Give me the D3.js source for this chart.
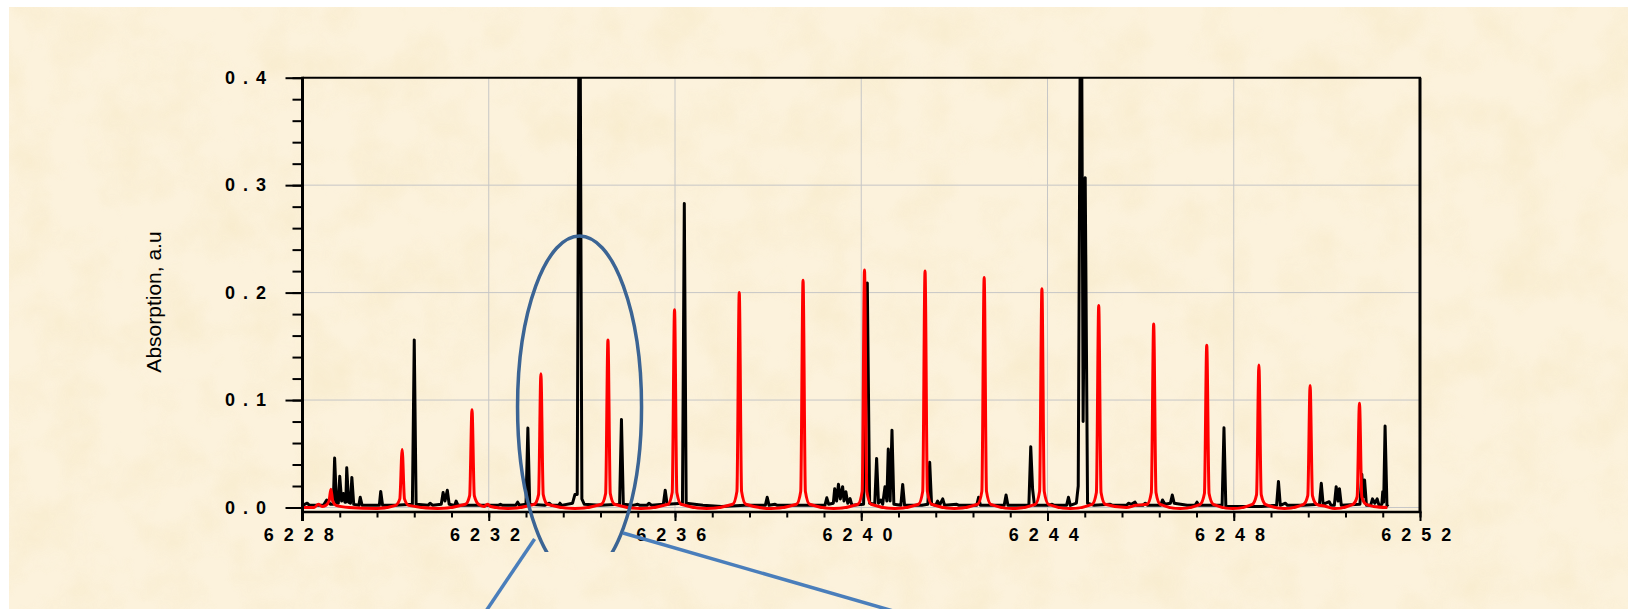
<!DOCTYPE html>
<html>
<head>
<meta charset="utf-8">
<script src="https://cdn.jsdelivr.net/npm/d3@7"></script>
<style>
  html, body { margin: 0; padding: 0; background: #fff; }
  svg { display: block; }
  .tick text { font-family: "Liberation Sans", Arial, sans-serif; font-weight: bold; font-size: 18px; fill: #000; }
</style>
</head>
<body>
<div id="chart"></div>
<script>
// axis ticks
const xTicks = [6228, 6232, 6236, 6240, 6244, 6248, 6252];
const yTicks = [0.0, 0.1, 0.2, 0.3, 0.4];

// measured spectrum (black), [wavenumber, absorption]
const blackTrace = [
  [6228.00, 0.002], [6228.10, 0.004], [6228.15, 0.002],
  [6228.45, 0.002], [6228.52, 0.007], [6228.60, 0.003],
  [6228.66, 0.003], [6228.69, 0.046], [6228.73, 0.004],
  [6228.77, 0.004], [6228.80, 0.029], [6228.84, 0.006],
  [6228.88, 0.013], [6228.91, 0.005],
  [6228.93, 0.005], [6228.95, 0.037], [6228.99, 0.005],
  [6229.03, 0.004], [6229.06, 0.028], [6229.10, 0.003],
  [6229.21, 0.002], [6229.24, 0.0095], [6229.28, 0.002],
  [6229.50, 0.002],
  [6229.65, 0.002], [6229.68, 0.015], [6229.72, 0.002],
  [6230.00, 0.002],
  [6230.36, 0.003], [6230.40, 0.156], [6230.44, 0.003],
  [6230.70, 0.002], [6230.74, 0.004], [6230.80, 0.002],
  [6230.98, 0.003], [6231.02, 0.014], [6231.06, 0.006], [6231.11, 0.016], [6231.15, 0.003],
  [6231.27, 0.002], [6231.30, 0.006], [6231.34, 0.002],
  [6231.70, 0.002], [6232.20, 0.002], [6232.25, 0.003], [6232.30, 0.002],
  [6232.58, 0.002], [6232.62, 0.005], [6232.66, 0.002],
  [6232.80, 0.003], [6232.84, 0.074], [6232.88, 0.003],
  [6233.20, 0.002], [6233.30, 0.004], [6233.35, 0.002],
  [6233.50, 0.002], [6233.53, 0.004], [6233.56, 0.002],
  [6233.80, 0.004], [6233.85, 0.012], [6233.90, 0.012], [6233.95, 0.600], [6234.00, 0.008], [6234.05, 0.003],
  [6234.40, 0.002],
  [6234.81, 0.003], [6234.85, 0.082], [6234.89, 0.003],
  [6235.10, 0.002], [6235.20, 0.003], [6235.25, 0.002],
  [6235.40, 0.002], [6235.44, 0.004], [6235.50, 0.002],
  [6235.75, 0.003], [6235.79, 0.016], [6235.83, 0.003],
  [6236.16, 0.004], [6236.20, 0.283], [6236.24, 0.004],
  [6236.60, 0.002], [6237.00, 0.001], [6237.50, 0.002],
  [6237.94, 0.002], [6237.98, 0.0095], [6238.02, 0.002],
  [6238.15, 0.003], [6238.20, 0.002], [6238.70, 0.002],
  [6239.22, 0.002], [6239.26, 0.009], [6239.30, 0.003],
  [6239.40, 0.004], [6239.43, 0.0175], [6239.47, 0.006], [6239.51, 0.0216], [6239.55, 0.008],
  [6239.60, 0.0194], [6239.63, 0.006], [6239.67, 0.0147], [6239.71, 0.004], [6239.76, 0.0082], [6239.80, 0.002],
  [6240.05, 0.003], [6240.13, 0.209], [6240.18, 0.004],
  [6240.29, 0.003], [6240.33, 0.0457], [6240.37, 0.004], [6240.42, 0.007], [6240.46, 0.003],
  [6240.51, 0.0194], [6240.55, 0.006], [6240.58, 0.0544], [6240.62, 0.006], [6240.66, 0.072], [6240.70, 0.003],
  [6240.85, 0.002], [6240.89, 0.0215], [6240.93, 0.002],
  [6241.30, 0.002], [6241.43, 0.003], [6241.47, 0.042], [6241.51, 0.003],
  [6241.60, 0.002], [6241.64, 0.006], [6241.68, 0.002], [6241.75, 0.008], [6241.79, 0.002],
  [6242.05, 0.003], [6242.10, 0.002],
  [6242.48, 0.002], [6242.52, 0.0095], [6242.56, 0.002],
  [6243.07, 0.002], [6243.11, 0.0116], [6243.15, 0.002],
  [6243.60, 0.002], [6243.64, 0.0566], [6243.68, 0.017], [6243.72, 0.002],
  [6244.00, 0.002], [6244.10, 0.003], [6244.15, 0.002],
  [6244.41, 0.002], [6244.45, 0.0095], [6244.49, 0.002],
  [6244.62, 0.004], [6244.66, 0.020], [6244.72, 0.600], [6244.765, 0.080], [6244.81, 0.307], [6244.86, 0.004],
  [6245.00, 0.002], [6245.35, 0.003], [6245.40, 0.002],
  [6245.70, 0.002], [6245.74, 0.004], [6245.80, 0.003], [6245.88, 0.005], [6245.92, 0.002],
  [6246.05, 0.002], [6246.10, 0.004], [6246.15, 0.002],
  [6246.43, 0.002], [6246.47, 0.007], [6246.52, 0.003], [6246.64, 0.004], [6246.68, 0.0116], [6246.72, 0.004],
  [6247.00, 0.002], [6247.17, 0.002], [6247.21, 0.005], [6247.25, 0.002],
  [6247.75, 0.002], [6247.79, 0.0743], [6247.83, 0.001],
  [6248.20, 0.001], [6248.60, 0.001],
  [6248.92, 0.002], [6248.96, 0.0243], [6249.00, 0.002], [6249.11, 0.004], [6249.15, 0.002],
  [6249.50, 0.002],
  [6249.84, 0.003], [6249.88, 0.0225], [6249.92, 0.003], [6250.05, 0.0054], [6250.09, 0.002],
  [6250.16, 0.002], [6250.20, 0.0194], [6250.24, 0.006], [6250.27, 0.0175], [6250.31, 0.002],
  [6250.71, 0.003], [6250.75, 0.031], [6250.78, 0.010], [6250.81, 0.0256], [6250.85, 0.002],
  [6250.94, 0.002], [6250.98, 0.008], [6251.03, 0.004], [6251.08, 0.008], [6251.12, 0.002],
  [6251.18, 0.003], [6251.20, 0.0147], [6251.22, 0.005], [6251.25, 0.0758], [6251.29, 0.002], [6251.32, 0.001]
];

// simulated spectrum (red), [wavenumber, absorption]
const redTrace = [
  [6228.00, 0.000], [6228.25, 0.000], [6228.34, 0.003], [6228.42, 0.001],
  [6228.50, 0.002], [6228.57, 0.006], [6228.61, 0.017], [6228.65, 0.006], [6228.72, 0.002],
  [6229.00, 0.000], [6229.60, -0.001],
  [6230.00, 0.002], [6230.09, 0.008], [6230.14, 0.054], [6230.19, 0.008], [6230.28, 0.002],
  [6230.90, -0.001],
  [6231.50, 0.003], [6231.59, 0.011], [6231.64, 0.091], [6231.69, 0.011], [6231.78, 0.003],
  [6231.90, 0.001], [6231.97, 0.003], [6232.04, 0.001],
  [6232.40, -0.001],
  [6232.98, 0.003], [6233.07, 0.012], [6233.12, 0.1245], [6233.17, 0.012], [6233.26, 0.003],
  [6233.85, -0.001],
  [6234.42, 0.003], [6234.51, 0.013], [6234.56, 0.156], [6234.61, 0.013], [6234.70, 0.003],
  [6235.27, -0.001],
  [6235.85, 0.003], [6235.94, 0.014], [6235.99, 0.184], [6236.04, 0.014], [6236.13, 0.003],
  [6236.68, -0.001],
  [6237.24, 0.003], [6237.33, 0.015], [6237.38, 0.200], [6237.43, 0.015], [6237.52, 0.003],
  [6238.06, -0.001],
  [6238.61, 0.003], [6238.70, 0.015], [6238.75, 0.2116], [6238.80, 0.015], [6238.89, 0.003],
  [6239.41, -0.001],
  [6239.93, 0.003], [6240.02, 0.015], [6240.07, 0.221], [6240.12, 0.015], [6240.21, 0.003],
  [6240.72, -0.001],
  [6241.23, 0.003], [6241.32, 0.015], [6241.37, 0.220], [6241.42, 0.015], [6241.51, 0.003],
  [6242.00, -0.001],
  [6242.50, 0.003], [6242.59, 0.015], [6242.64, 0.214], [6242.69, 0.015], [6242.78, 0.003],
  [6243.26, -0.001],
  [6243.74, 0.003], [6243.83, 0.015], [6243.88, 0.2036], [6243.93, 0.015], [6244.02, 0.003],
  [6244.49, -0.001],
  [6244.96, 0.003], [6245.05, 0.014], [6245.10, 0.188], [6245.15, 0.014], [6245.24, 0.003],
  [6245.69, 0.000], [6245.90, 0.002],
  [6246.14, 0.003], [6246.23, 0.014], [6246.28, 0.1707], [6246.33, 0.014], [6246.42, 0.003],
  [6246.85, -0.001],
  [6247.28, 0.003], [6247.37, 0.013], [6247.42, 0.151], [6247.47, 0.013], [6247.56, 0.003],
  [6247.98, -0.001],
  [6248.40, 0.003], [6248.49, 0.012], [6248.54, 0.1326], [6248.59, 0.012], [6248.68, 0.003],
  [6249.09, -0.001],
  [6249.50, 0.003], [6249.59, 0.011], [6249.64, 0.1136], [6249.69, 0.011], [6249.78, 0.003],
  [6249.98, 0.001], [6250.17, -0.001],
  [6250.56, 0.003], [6250.65, 0.010], [6250.70, 0.097], [6250.75, 0.010], [6250.84, 0.003],
  [6251.00, 0.001], [6251.30, 0.000]
];

const width = 1628, height = 609;
const plotLeft = 302.5, plotRight = 1420, plotTop = 77.7, plotBottom = 512;

const svg = d3.select("#chart")
    .append("svg")
    .attr("width", width)
    .attr("height", height);

const defs = svg.append("defs");

// parchment texture
const paper = defs.append("filter")
    .attr("id", "paper")
    .attr("x", 0).attr("y", 0).attr("width", "100%").attr("height", "100%");
paper.append("feTurbulence")
    .attr("type", "fractalNoise")
    .attr("baseFrequency", "0.02")
    .attr("numOctaves", 4)
    .attr("seed", 7);
paper.append("feColorMatrix")
    .attr("type", "matrix")
    .attr("values", "0 0 0 0 0.93  0 0 0 0 0.82  0 0 0 0 0.58  0 0 0 1.4 -0.55");

defs.append("clipPath").attr("id", "plot-clip")
    .append("rect")
    .attr("x", plotLeft).attr("y", plotTop)
    .attr("width", plotRight - plotLeft).attr("height", plotBottom - plotTop);

defs.append("clipPath").attr("id", "oval-clip")
    .append("rect")
    .attr("x", 0).attr("y", 0)
    .attr("width", width).attr("height", 552);

svg.append("rect")
    .attr("x", 9).attr("y", 7)
    .attr("width", width - 9).attr("height", height - 7)
    .attr("fill", "#fcf2dc");
svg.append("rect")
    .attr("x", 9).attr("y", 7)
    .attr("width", width - 9).attr("height", height - 7)
    .attr("filter", "url(#paper)")
    .attr("opacity", 0.9);

// scales
const x = d3.scaleLinear().domain([6228, 6252]).range([plotLeft, plotRight]);
const y = d3.scaleLinear().domain([0, 0.4]).range([507.5, plotTop]);

// grid
const grid = svg.append("g").attr("stroke", "#c6c6c6").attr("stroke-width", 1);
grid.selectAll(".vgrid")
    .data(xTicks.slice(1, -1))
    .enter().append("line")
    .attr("x1", d => x(d)).attr("x2", d => x(d))
    .attr("y1", plotTop).attr("y2", plotBottom);
grid.selectAll(".hgrid")
    .data(yTicks.slice(0, -1))
    .enter().append("line")
    .attr("x1", plotLeft).attr("x2", plotRight)
    .attr("y1", d => y(d)).attr("y2", d => y(d));

// spectra
const line = d3.line().x(d => x(d[0])).y(d => y(d[1]));
const plot = svg.append("g").attr("clip-path", "url(#plot-clip)");

plot.append("path")
    .datum(blackTrace)
    .attr("fill", "none")
    .attr("stroke", "#000")
    .attr("stroke-width", 3)
    .attr("stroke-linejoin", "round")
    .attr("d", line);

plot.append("path")
    .datum(redTrace)
    .attr("fill", "none")
    .attr("stroke", "#ff0000")
    .attr("stroke-width", 3)
    .attr("stroke-linejoin", "round")
    .attr("d", line.curve(d3.curveMonotoneX));

// frame
svg.append("line")
    .attr("x1", plotLeft).attr("x2", plotRight + 1)
    .attr("y1", plotTop).attr("y2", plotTop)
    .attr("stroke", "#000").attr("stroke-width", 2);
svg.append("line")
    .attr("x1", plotRight).attr("x2", plotRight)
    .attr("y1", plotTop).attr("y2", plotBottom)
    .attr("stroke", "#000").attr("stroke-width", 3);

// y axis
const yMinor = svg.append("g")
    .attr("transform", `translate(${plotLeft}, 0)`)
    .call(d3.axisLeft(y).tickValues(d3.range(0, 0.4001, 0.02)).tickSize(10).tickFormat(""));
const yMajor = svg.append("g")
    .attr("transform", `translate(${plotLeft}, 0)`)
    .call(d3.axisLeft(y).tickValues(yTicks).tickSize(17).tickPadding(18)
        .tickFormat(d => d3.format(".1f")(d).split("").join(" ")));
yMajor.selectAll("text").style("letter-spacing", "1.5px");

// x axis
const xMinor = svg.append("g")
    .attr("transform", `translate(0, ${plotBottom})`)
    .call(d3.axisBottom(x).tickValues(d3.range(6228, 6252.01, 0.8)).tickSize(5.5).tickFormat(""));
const xMajor = svg.append("g")
    .attr("transform", `translate(0, ${plotBottom})`)
    .call(d3.axisBottom(x).tickValues(xTicks).tickSize(9).tickPadding(7)
        .tickFormat(d => String(d).split("").join(" ")));
xMajor.selectAll("text").style("letter-spacing", "2.5px").attr("dx", -3);

[yMinor, yMajor, xMinor, xMajor].forEach(g => {
    g.select(".domain").remove();
    g.selectAll(".tick line").attr("stroke", "#000").attr("stroke-width", 2);
});

svg.append("line")
    .attr("x1", plotLeft).attr("x2", plotLeft)
    .attr("y1", plotTop - 1).attr("y2", plotBottom + 9)
    .attr("stroke", "#000").attr("stroke-width", 3);
svg.append("line")
    .attr("x1", plotLeft).attr("x2", plotRight + 1.5)
    .attr("y1", plotBottom).attr("y2", plotBottom)
    .attr("stroke", "#000").attr("stroke-width", 2.5);

// axis title
svg.append("text")
    .attr("transform", `translate(161, 302) rotate(-90)`)
    .attr("text-anchor", "middle")
    .style("font-family", "'Liberation Sans', Arial, sans-serif")
    .style("font-size", "21px")
    .attr("fill", "#000")
    .text("Absorption, a.u");

// zoom callout: oval around the strong line and two leader lines
const callout = svg.append("g");
callout.append("ellipse")
    .attr("clip-path", "url(#oval-clip)")
    .attr("cx", x(6233.95)).attr("cy", 407)
    .attr("rx", 62).attr("ry", 171)
    .attr("fill", "none")
    .attr("stroke", "#3b6494")
    .attr("stroke-width", 3.5);
callout.append("line")
    .attr("x1", 534.6).attr("y1", 539)
    .attr("x2", 482).attr("y2", 617)
    .attr("stroke", "#4a7ebb").attr("stroke-width", 3.5);
callout.append("line")
    .attr("x1", 623).attr("y1", 533)
    .attr("x2", 914).attr("y2", 617)
    .attr("stroke", "#4a7ebb").attr("stroke-width", 3.5);
</script>
</body>
</html>
